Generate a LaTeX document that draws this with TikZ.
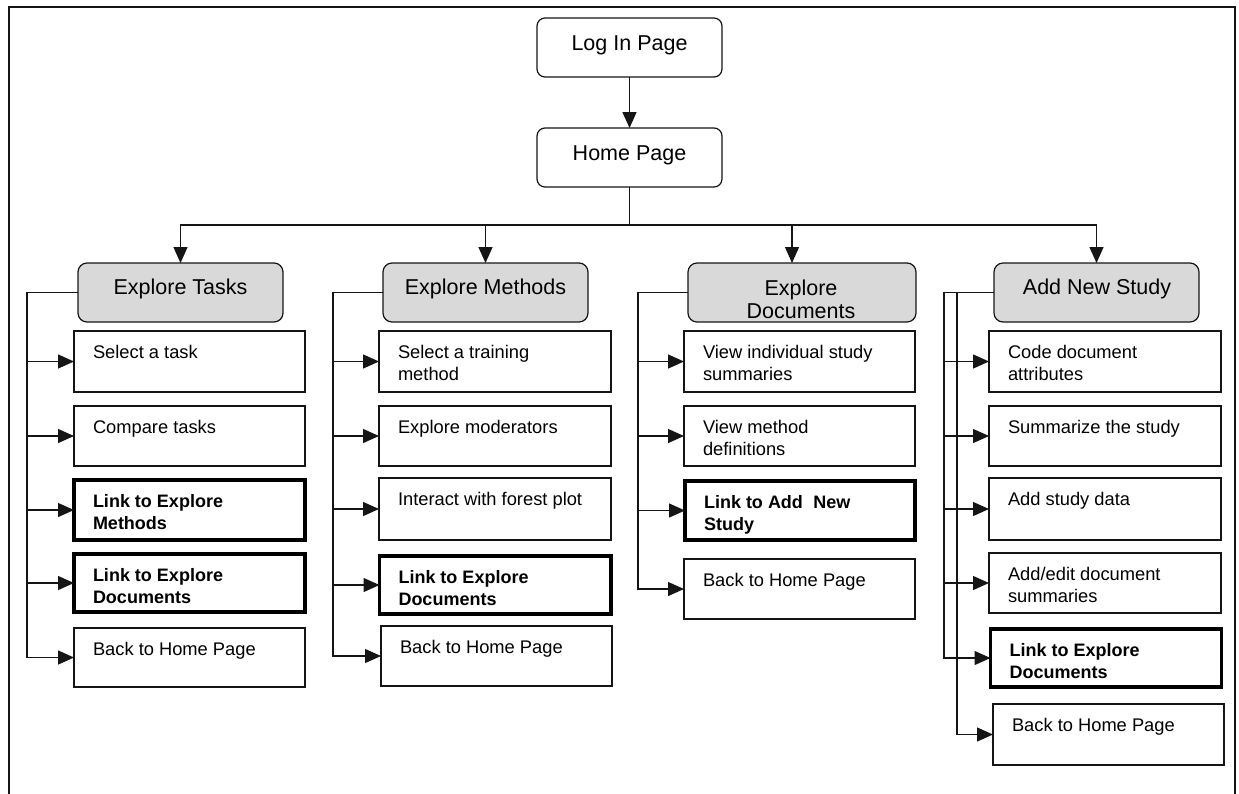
\documentclass[tikz,border=0pt]{standalone}
\usepackage{fontspec}
\setmainfont{Liberation Sans}
\usetikzlibrary{arrows.meta}
\definecolor{ln}{HTML}{151515}
\definecolor{hdrgray}{HTML}{D9D9D9}
\begin{document}
\begin{tikzpicture}[x=1pt,y=-1pt,
  every node/.style={inner sep=0pt, outer sep=0pt},
  topbox/.style={draw=ln, line width=1.2pt, rounded corners=8pt, minimum width=185pt, minimum height=59pt, fill=white},
  hdrbox/.style={draw=ln, line width=1.2pt, rounded corners=9pt, fill=hdrgray, minimum width=205pt, minimum height=59pt},
  item/.style={draw=ln, line width=1.2pt, minimum width=231pt, minimum height=60pt},
  bolditem/.style={item, draw=black, line width=3.5pt},
  htext/.style={font=\fontsize{21.5}{23}\selectfont, align=center, anchor=base},
  itext/.style={font=\fontsize{18.3}{22}\selectfont, align=left, anchor=base west},
  btext/.style={font=\fontsize{18}{22}\selectfont\bfseries, align=left, anchor=base west},
  conn/.style={draw=ln, line width=1.3pt},
  arr/.style={conn, -{Triangle[length=16pt,width=14pt]}}]
\useasboundingbox (0,0) rectangle (1239,793);
% frame
\draw[draw=ln, line width=1.5pt] (9,800) -- (9,7) -- (1235,7) -- (1235,800);

% top boxes
\node[topbox] (login) at (629.5,47.5) {};
\node[htext] (loginT) at (629.5,50.5) {Log In Page};
\node[topbox] (home) at (629.5,157.5) {};
\node[htext] (homeT) at (629.5,160.5) {Home Page};
\draw[arr] (login) -- (home);

% headers
\node[hdrbox] (hT) at (180.5,292.5) {};
\node[htext] (hTt) at (180.5,294) {Explore Tasks};
\node[hdrbox] (hM) at (485.5,292.5) {};
\node[htext] (hMt) at (485.5,294) {Explore Methods};
\node[hdrbox, minimum width=228pt] (hD) at (802,292.5) {};
\node[htext] (hDt) at (801,318) {Explore\\Documents};
\node[hdrbox] (hA) at (1096.5,292.5) {};
\node[htext] (hAt) at (1097,294) {Add New Study};

% bus
\coordinate (bus) at (629.5,225);
\draw[conn] (home.south) -- (bus);
\draw[arr] (bus) -| (hT.north);
\draw[arr] (bus) -| (hM.north);
\draw[arr] (bus) -| ([xshift=-10pt]hD.north);
\draw[arr] (bus) -| (hA.north);

% Explore Tasks column
\node[item, minimum height=61pt] (t1) at (189.5,361.5) {};
\node[item] (t2) at (189.5,436) {};
\node[bolditem] (t3) at (189.5,510) {};
\node[bolditem, minimum height=58pt] (t4) at (189.5,583) {};
\node[item, minimum height=59pt] (t5) at (189.5,657.5) {};
\node[itext] at ([shift={(19,27)}]t1.north west) {Select a task};
\node[itext] at ([shift={(19,27)}]t2.north west) {Compare tasks};
\node[btext] at ([shift={(19,49)}]t3.north west) {Link to Explore\\Methods};
\node[btext] at ([shift={(19,49)}]t4.north west) {Link to Explore\\Documents};
\node[itext] at ([shift={(19,27)}]t5.north west) {Back to Home Page};
\coordinate (bT) at (27,292.5);
\foreach \b in {t1,t2,t3,t4,t5} \draw[arr] (hT.west) -- (bT) |- (\b.west);

% Explore Methods column
\node[item, minimum width=232pt, minimum height=61pt] (m1) at (495,361.5) {};
\node[item, minimum width=232pt] (m2) at (495,436) {};
\node[item, minimum width=232pt, minimum height=62pt] (m3) at (495,509) {};
\node[bolditem, minimum width=231.5pt, minimum height=58pt] (m4) at (495.25,585) {};
\node[item] (m5) at (496.5,656) {};
\node[itext] at ([shift={(19,49)}]m1.north west) {Select a training\\method};
\node[itext] at ([shift={(19,27)}]m2.north west) {Explore moderators};
\node[itext] at ([shift={(19,27)}]m3.north west) {Interact with forest plot};
\node[btext] at ([shift={(19,49)}]m4.north west) {Link to Explore\\Documents};
\node[itext] at ([shift={(19,27)}]m5.north west) {Back to Home Page};
\coordinate (bM) at (333,292.5);
\foreach \b in {m1,m2,m3,m4,m5} \draw[arr] (hM.west) -- (bM) |- (\b.west);

% Explore Documents column
\node[item, minimum height=61pt] (d1) at (799.5,361.5) {};
\node[item] (d2) at (799.5,436) {};
\node[bolditem, minimum width=230pt, minimum height=59pt] (d3) at (800,510.5) {};
\node[item] (d4) at (799.5,589) {};
\node[itext] at ([shift={(19,49)}]d1.north west) {View individual study\\summaries};
\node[itext] at ([shift={(19,49)}]d2.north west) {View method\\definitions};
\node[btext] at ([shift={(19,49)}]d3.north west) {Link to Add\hspace{0.3em} New\\Study};
\node[itext] at ([shift={(19,27)}]d4.north west) {Back to Home Page};
\coordinate (bD) at (638,292.5);
\foreach \b in {d1,d2,d3,d4} \draw[arr] (hD.west) -- (bD) |- (\b.west);

% Add New Study column
\node[item, minimum width=232pt, minimum height=61pt] (a1) at (1105,361.5) {};
\node[item, minimum width=232pt] (a2) at (1105,436) {};
\node[item, minimum width=232pt, minimum height=62pt] (a3) at (1105,509) {};
\node[item, minimum width=232pt] (a4) at (1105,583) {};
\node[bolditem, minimum height=58pt] (a5) at (1106,658) {};
\node[item, minimum height=61pt] (a6) at (1108.5,734.5) {};
\node[itext] at ([shift={(19,49)}]a1.north west) {Code document\\attributes};
\node[itext] at ([shift={(19,27)}]a2.north west) {Summarize the study};
\node[itext] at ([shift={(19,27)}]a3.north west) {Add study data};
\node[itext] at ([shift={(19,49)}]a4.north west) {Add/edit document\\summaries};
\node[btext] at ([shift={(19,49)}]a5.north west) {Link to Explore\\Documents};
\node[itext] at ([shift={(19,27)}]a6.north west) {Back to Home Page};
\coordinate (bA) at (944,292.5);
\coordinate (bA2) at (957,292.5);
\foreach \b in {a1,a2,a3,a4,a5} \draw[arr] (hA.west) -- (bA) |- (\b.west);
\draw[arr] (hA.west) -- (bA2) |- (a6.west);
\end{tikzpicture}
\end{document}
